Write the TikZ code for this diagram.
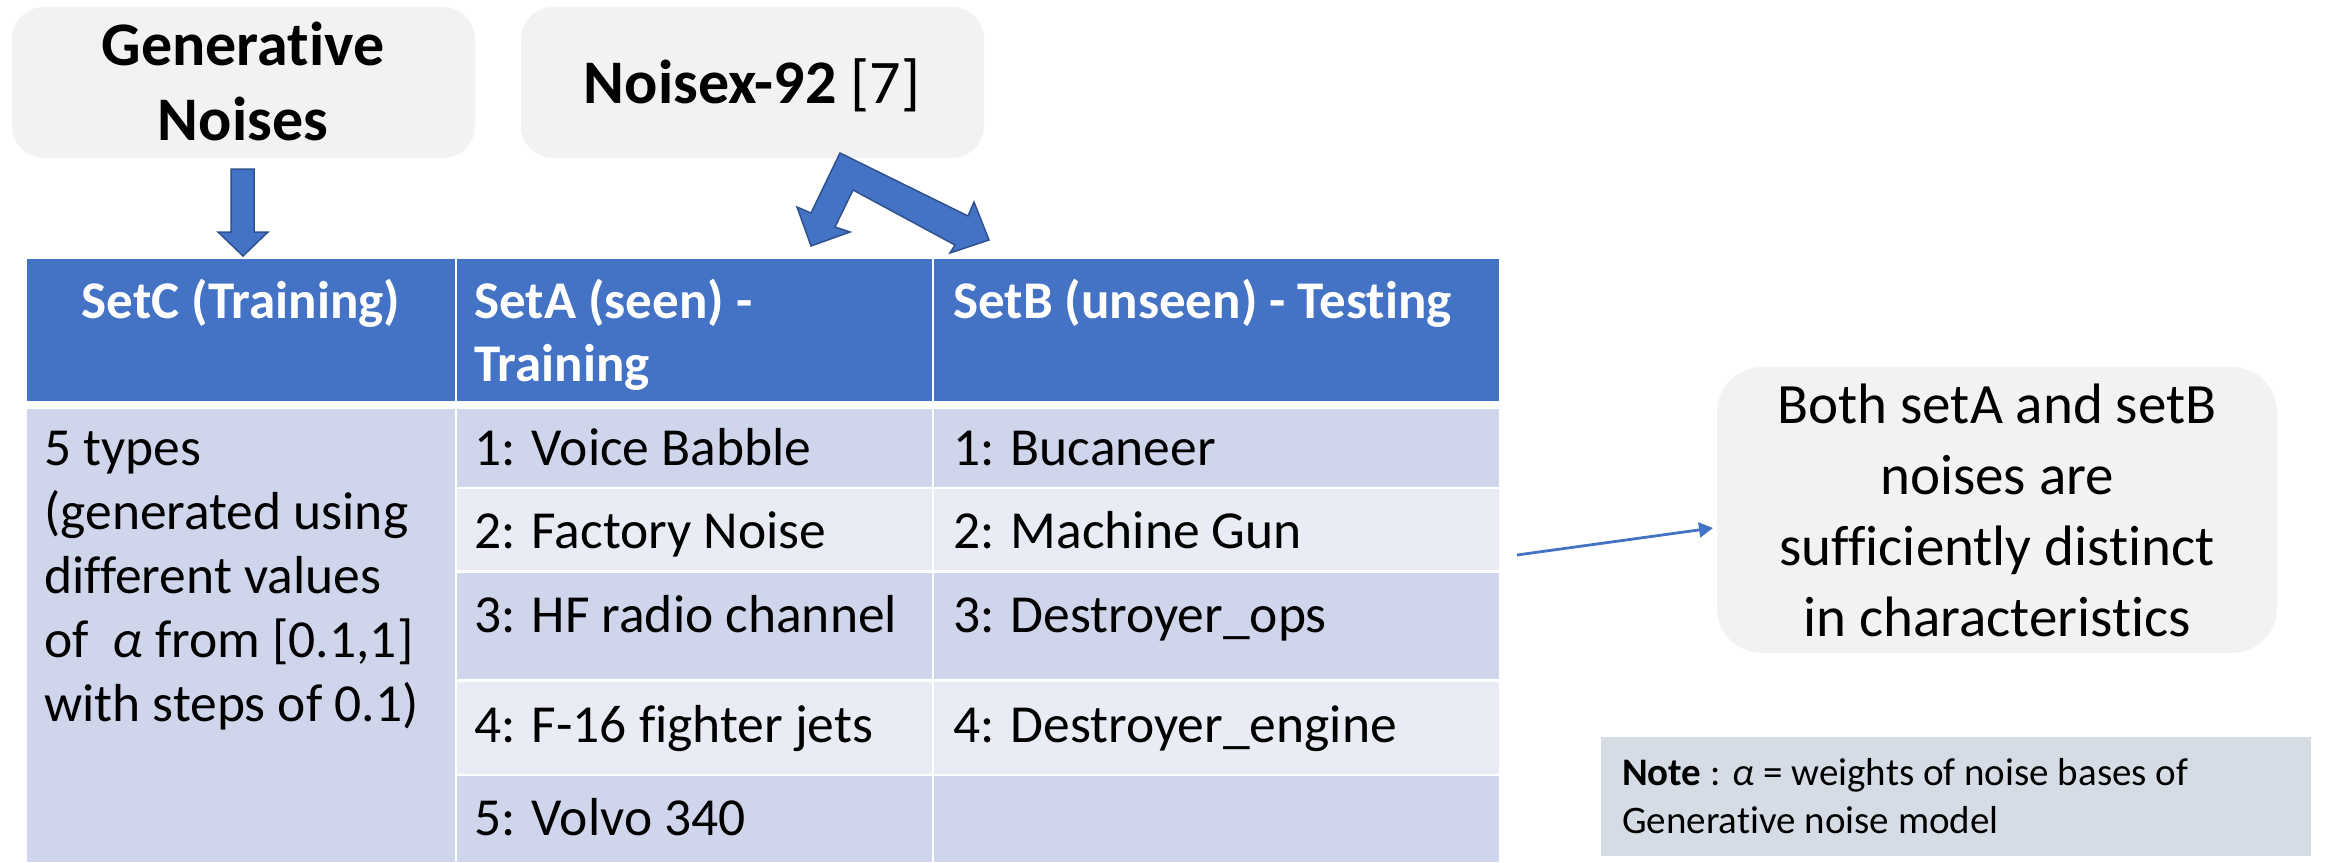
\documentclass[tikz,border=0pt]{standalone}
\usepackage{fontspec}
\setmainfont[Ligatures={NoCommon}]{Carlito}
\usetikzlibrary{arrows.meta,calc}
\definecolor{hdrblue}{HTML}{4472C4}
\definecolor{rowdark}{HTML}{CFD5EA}
\definecolor{rowlight}{HTML}{E9EBF5}
\definecolor{bubblegray}{HTML}{F2F2F2}
\definecolor{notebg}{HTML}{D6DCE5}
\definecolor{arrowedge}{HTML}{2F528F}
\tikzset{
  cell/.style={inner sep=0pt, outer sep=0pt, anchor=north west, draw=none},
  hdrcell/.style={cell, fill=hdrblue},
  darkcell/.style={cell, fill=rowdark},
  lightcell/.style={cell, fill=rowlight},
  bubblebox/.style={cell, fill=bubblegray},
  notebox/.style={cell, fill=notebg},
  hdrtxt/.style={text=white, font=\fontsize{53}{63}\selectfont\bfseries, inner sep=0pt, anchor=base west},
  bodytxt/.style={text=black, font=\fontsize{53.5}{64}\selectfont, inner sep=0pt, anchor=base west},
  blockarrow/.style={fill=hdrblue, draw=arrowedge, line width=1.5pt, line join=miter},
  conn/.style={draw=hdrblue, line width=2.8pt, -{Triangle[length=14pt,width=15pt]}},
}
\begin{document}
\begin{tikzpicture}[x=1pt,y=-1pt]
\useasboundingbox (0,0) rectangle (2326,862);

% top rounded boxes
\node[bubblebox, rounded corners=32pt, minimum width=463pt, minimum height=151pt] (gen) at (12,7) {};
\node[text=black, font=\fontsize{62}{75}\selectfont\bfseries, inner sep=0pt, anchor=base] (gentxt) at (243,65)
  {\begin{tabular}[t]{@{}c@{}}Generative\\Noises\end{tabular}};
\node[bubblebox, rounded corners=32pt, minimum width=463pt, minimum height=151pt] (nx) at (521,7) {};
\node[text=black, font=\fontsize{62}{75}\selectfont, inner sep=0pt, anchor=base] (nxtxt) at (752,103)
  {\textbf{Noisex-92} [7]};

% table header
\node[hdrcell, minimum width=428pt, minimum height=142pt] (h1) at (27,259) {};
\node[hdrcell, minimum width=475pt, minimum height=142pt] (h2) at (457,259) {};
\node[hdrcell, minimum width=565pt, minimum height=142pt] (h3) at (934,259) {};
\node[hdrtxt, anchor=base] (h1t) at (241,318) {SetC (Training)};
\node[hdrtxt] (h2t) at (474,318) {\begin{tabular}[t]{@{}l@{}}SetA (seen) -\\Training\end{tabular}};
\node[hdrtxt] (h3t) at (953,318) {SetB (unseen) - Testing};

% table body
\node[darkcell, minimum width=428pt, minimum height=453pt] (c1) at (27,409) {};
\node[darkcell, minimum width=475pt, minimum height=78pt] (a1) at (457,409) {};
\node[darkcell, minimum width=565pt, minimum height=78pt] (b1) at (934,409) {};
\node[lightcell, minimum width=475pt, minimum height=81pt] (a2) at (457,489) {};
\node[lightcell, minimum width=565pt, minimum height=81pt] (b2) at (934,489) {};
\node[darkcell, minimum width=475pt, minimum height=106pt] (a3) at (457,573) {};
\node[darkcell, minimum width=565pt, minimum height=106pt] (b3) at (934,573) {};
\node[lightcell, minimum width=475pt, minimum height=92pt] (a4) at (457,682) {};
\node[lightcell, minimum width=565pt, minimum height=92pt] (b4) at (934,682) {};
\node[darkcell, minimum width=475pt, minimum height=86pt] (a5) at (457,776) {};
\node[darkcell, minimum width=565pt, minimum height=86pt] (b5) at (934,776) {};

\node[bodytxt] (c1t) at (44,465) {\begin{tabular}[t]{@{}l@{}}5 types\\(generated using\\different values\\of\ \ \textit{α} from [0.1,1]\\with steps of 0.1)\end{tabular}};
\node[bodytxt] (a1t) at (474,465) {1: Voice Babble};
\node[bodytxt] (a2t) at (474,548) {2: Factory Noise};
\node[bodytxt] (a3t) at (474,632) {3: HF radio channel};
\node[bodytxt] (a4t) at (474,742) {4: F-16 fighter jets};
\node[bodytxt] (a5t) at (474,835) {5: Volvo 340};
\node[bodytxt] (b1t) at (953,465) {1: Bucaneer};
\node[bodytxt] (b2t) at (953,548) {2: Machine Gun};
\node[bodytxt] (b3t) at (953,632) {3: Destroyer\_ops};
\node[bodytxt] (b4t) at (953,742) {4: Destroyer\_engine};

% right side
\node[bubblebox, rounded corners=45pt, minimum width=560pt, minimum height=286pt] (both) at (1717,367) {};
\node[text=black, font=\fontsize{57}{71}\selectfont, inner sep=0pt, anchor=base] (botht) at (1997,423)
  {\begin{tabular}[t]{@{}c@{}}Both setA and setB\\noises are\\sufficiently distinct\\in characteristics\end{tabular}};
\node[notebox, minimum width=710pt, minimum height=119pt] (note) at (1601,737) {};
\node[text=black, font=\fontsize{39}{48}\selectfont, inner sep=0pt, anchor=base west] (notet) at (1622,785)
  {\begin{tabular}[t]{@{}l@{}}\textbf{Note} : \textit{α} = weights of noise bases of\\Generative noise model\end{tabular}};

% block arrows
\draw[blockarrow] (231,169) -- (254,169) -- (254,232) -- (268,232) -- (243,256) -- (218,232) -- (231,232) -- cycle;
\draw[blockarrow] (840,153) -- (811,213) -- (797,207) -- (811,246) -- (850,232) -- (835,227) -- (853,190)
  -- (955,245) -- (950,253) -- (989,240) -- (974,202) -- (968,216) -- cycle;

% connector
\coordinate (tblout) at (1517,555);
\draw[conn] (tblout) -- ($(both.west)+(-4,18)$);
\end{tikzpicture}
\end{document}
